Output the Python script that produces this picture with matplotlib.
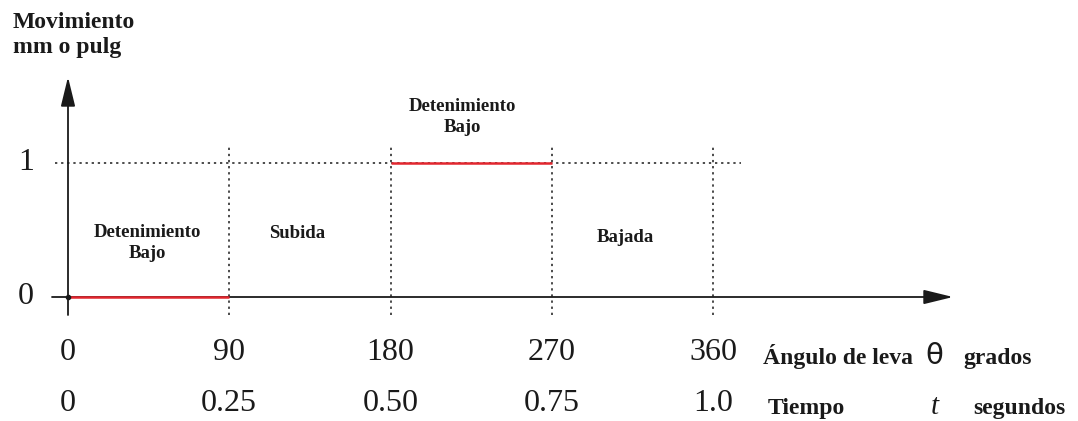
import matplotlib
matplotlib.use('Agg')
import matplotlib.pyplot as plt

# cam displacement diagram data
angles = [0, 90, 180, 270, 360]
angle_labels = ['0', '90', '180', '270', '360']
time_labels = ['0', '0.25', '0.50', '0.75', '1.0']
levels = [0, 1]
dwell_starts = [0, 180]
dwell_ends = [90, 270]
dwell_levels = [0, 1]
segment_names = ['Detenimiento\nBajo', 'Subida', 'Detenimiento\nBajo', 'Bajada']

W, H = 1078, 421
X0, DX = 68, 645 / 360.0   # pixel of angle 0, pixels per degree
Y0, DY = 297, 134.0        # pixel of level 0, pixels per unit


def px(x):
    return (x - X0) / DX


def py(y):
    return (Y0 - y) / DY


plt.rcParams['font.family'] = ['Liberation Serif', 'DejaVu Serif']
fig = plt.figure(figsize=(W / 100, H / 100), dpi=100)
ax = fig.add_axes([0, 0, 1, 1])
ax.set_xlim(px(0), px(W))
ax.set_ylim(py(H), py(0))
ax.axis('off')

ink = '#1a1a1a'
red = '#e3262e'
bold = dict(fontsize=17, fontweight='bold', color=ink, va='baseline')

# guide lines
ax.plot([px(55), px(741)], [levels[1], levels[1]], ls=(0, (1.5, 2.5)), color=ink, lw=1.1)
for a in angles[1:]:
    ax.plot([a, a], [py(315), py(146)], ls=(0, (1.5, 2.5)), color=ink, lw=1.1)

# axes with arrows
arrow = dict(arrowstyle='-|>,head_length=0.9,head_width=0.22', color=ink, lw=1.3,
             mutation_scale=20, shrinkA=0, shrinkB=0)
ax.annotate('', xy=(px(953), levels[0]), xytext=(px(52), levels[0]), arrowprops=arrow)
ax.annotate('', xy=(angles[0], py(77)), xytext=(angles[0], py(315)), arrowprops=arrow)

# dwell segments
for s, e, lv in zip(dwell_starts, dwell_ends, dwell_levels):
    ax.plot([s, e], [lv, lv], color=red, lw=1.8, solid_capstyle='butt', zorder=3)
ax.plot([angles[0]], [levels[0]], 'o', color=ink, ms=3, zorder=4)

# y labels
for lv in levels:
    ax.text(px(34), lv, str(lv), ha='right', va='center', fontsize=23, color=ink)

# x labels
for a, al, tl in zip(angles, angle_labels, time_labels):
    ax.text(a, py(360), al, ha='center', va='baseline', fontsize=23, color=ink)
    ax.text(a, py(411), tl, ha='center', va='baseline', fontsize=23, color=ink)

# segment names
name_pos = [(px(147), py(243)), (px(297), py(233)), (px(462), py(117)), (px(625), py(238))]
for (x, y), name in zip(name_pos, segment_names):
    ax.text(x, y, name, ha='center', va='center', fontsize=13.5, fontweight='bold',
            color=ink, linespacing=1.3)

# axis titles
ax.text(px(13), py(28), 'Movimiento', ha='left', **bold)
ax.text(px(13), py(53), 'mm o pulg', ha='left', **bold)
ax.text(px(763), py(364), 'Ángulo de leva', ha='left', **bold)
ax.text(px(934), py(364), 'θ', ha='center', va='baseline', fontsize=21, color=ink,
        family='DejaVu Sans')
ax.text(px(963), py(364), 'grados', ha='left', **bold)
ax.text(px(768), py(414), 'Tiempo', ha='left', **bold)
ax.text(px(935), py(414), 't', ha='center', va='baseline', fontsize=21,
        style='italic', color=ink)
ax.text(px(973), py(414), 'segundos', ha='left', **bold)

fig.savefig('out.png', dpi=100, facecolor='white')
